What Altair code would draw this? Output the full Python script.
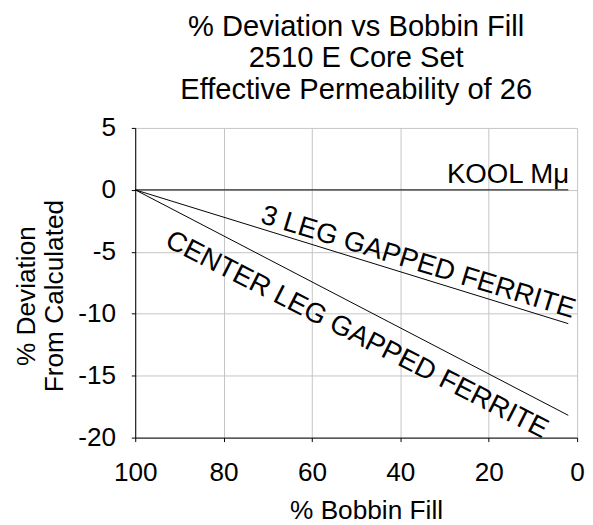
import altair as alt
import pandas as pd

fill = [100, 2]
kool = [0, 0]
three_leg = [0, -10.8]
center_leg = [0, -18.2]

series_names = ["KOOL Mμ", "3 LEG GAPPED FERRITE", "CENTER LEG GAPPED FERRITE"]
label_x = [0, 36.5, 50.7]
label_y = [0, -6.5, -12.3]
label_angle = [0, 17, 27]
label_align = ["right", "center", "center"]

x_ticks = [100, 80, 60, 40, 20, 0]
y_ticks = [5, 0, -5, -10, -15, -20]

rows = []
for name, vals in zip(series_names, [kool, three_leg, center_leg]):
    for f, v in zip(fill, vals):
        rows.append({"series": name, "fill": f, "dev": v})
lines_df = pd.DataFrame(rows)

FONT = "Liberation Sans"

x_scale = alt.Scale(domain=[100, 0], nice=False)
y_scale = alt.Scale(domain=[-20, 5], nice=False)

x_enc = alt.X("fill:Q", scale=x_scale,
              axis=alt.Axis(title="% Bobbin Fill", values=x_ticks,
                            labelExpr="'' + datum.value", labelFlush=False,
                            titleX=234, titleY=61, titleBaseline="top"))
y_enc = alt.Y("dev:Q", scale=y_scale,
              axis=alt.Axis(title=["% Deviation", "From Calculated"], values=y_ticks,
                            labelExpr="'' + datum.value", labelFlush=False,
                            titleX=-96, titleY=170, titleBaseline="bottom",
                            titleLineHeight=28))

lines = alt.Chart(lines_df).mark_line(color="black", strokeWidth=1).encode(
    x=x_enc, y=y_enc, detail="series:N"
)

def label(i, **kw):
    df = pd.DataFrame({"fill": [label_x[i]], "dev": [label_y[i]], "t": [series_names[i]]})
    return alt.Chart(df).mark_text(
        font=FONT, fontSize=28, color="black", angle=label_angle[i],
        align=label_align[i], baseline="alphabetic", **kw
    ).encode(x=alt.X("fill:Q", scale=x_scale), y=alt.Y("dev:Q", scale=y_scale), text="t:N")

kool_lbl = label(0, dx=-8, dy=-7)
leg3_lbl = label(1)
center_lbl = label(2)

chart = alt.layer(lines, kool_lbl, leg3_lbl, center_lbl).properties(
    width=448, height=314,
    title=alt.TitleParams(
        text=["% Deviation vs Bobbin Fill", "2510 E Core Set", "Effective Permeability of 26"],
        font=FONT, fontSize=29.5, fontWeight="normal", lineHeight=32,
        anchor="middle", frame="group", offset=10, color="black",
    ),
    autosize=alt.AutoSizeParams(type="none"),
    padding={"left": 129, "top": 118, "right": 8, "bottom": 85},
).configure_view(stroke=None).configure_axis(
    labelFont=FONT, labelFontSize=26.5, labelColor="black",
    titleFont=FONT, titleFontSize=26.6, titleFontWeight="normal", titleColor="black",
    domainColor="black", tickColor="black", tickSize=4,
    gridColor="#c4c4c4", gridWidth=1,
).configure_axisX(labelPadding=18).configure_axisY(labelPadding=16)

chart.save("out.html", embed_options={"renderer": "svg", "actions": False})
